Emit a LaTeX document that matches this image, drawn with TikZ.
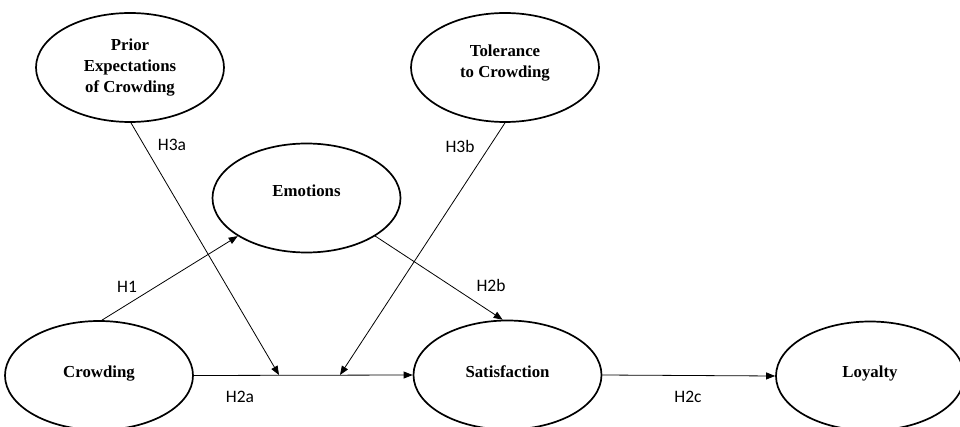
\documentclass[tikz,border=0pt]{standalone}
\usepackage{fontspec}
\setmainfont{Liberation Serif}
\newfontfamily\labfont{Carlito}
\usetikzlibrary{arrows.meta,shapes.geometric}
\begin{document}
\begin{tikzpicture}[x=1pt,y=-1pt,
  ell/.style={draw,ellipse,line width=1.7pt,minimum width=188pt,minimum height=109pt,inner sep=0pt},
  ttl/.style={align=center,inner sep=0pt,anchor=base,font=\bfseries\fontsize{16.8}{21}\selectfont},
  hyp/.style={inner sep=0pt,font=\labfont\fontsize{17.5}{20}\selectfont},
  arr/.style={line width=0.8pt,-{Triangle[length=9pt,width=7pt]}}]
\useasboundingbox (0,0) rectangle (960,427);
\begin{scope}
\clip (0,0) rectangle (960,427);
\node[ell] (prior) at (130,67.5) {};
\node[ell] (tol) at (505,67.5) {};
\node[ell] (emo) at (306.5,198) {};
\node[ell] (crowd) at (99,375.5) {};
\node[ell] (sat) at (507.5,375) {};
\node[ell] (loy) at (870,376) {};
\end{scope}
\node[ttl] (priorT) at (130,93) {Prior\\Expectations\\of Crowding};
\node[ttl] (tolT) at (505,78) {Tolerance\\to Crowding};
\node[ttl] (emoT) at (306.5,197) {Emotions};
\node[ttl] (crowdT) at (99,377) {Crowding};
\node[ttl] (satT) at (507.5,377) {Satisfaction};
\node[ttl] (loyT) at (870,377) {Loyalty};
\coordinate (m1) at (279,375);
\coordinate (m2) at (340,375);
\draw[arr] (crowd.east) -- (sat.west);
\draw[arr] (sat.east) -- (loy.west);
\draw[arr] (crowd.87) -- (emo.209.7);
\draw[arr] (emo.-29.6) -- (sat.95.4);
\draw[arr] (prior.-89) -- (m1);
\draw[arr] (tol.south) -- (m2);
\node[hyp] (h3a) at (172,145) {H3a};
\node[hyp] (h3b) at (460,146) {H3b};
\node[hyp] (h1) at (127,287) {H1};
\node[hyp] (h2b) at (491,285) {H2b};
\node[hyp] (h2a) at (240,397) {H2a};
\node[hyp] (h2c) at (688,397) {H2c};
\end{tikzpicture}
\end{document}
